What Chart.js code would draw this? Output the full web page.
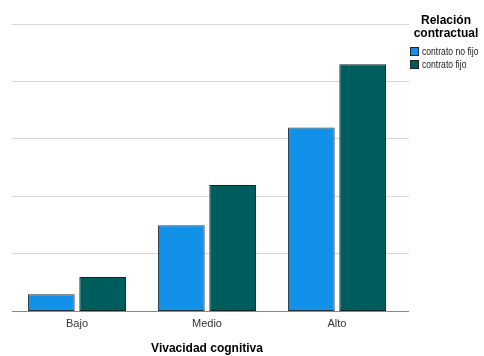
<!DOCTYPE html>
<html lang="es">
<head>
    <meta charset="UTF-8">
    <title>Vivacidad cognitiva</title>
    <script src="https://cdn.jsdelivr.net/npm/chart.js"></script>
    <style>
        body {
            margin: 0;
            padding: 0;
            background: white;
        }
        #wrap {
            position: relative;
            width: 484px;
            height: 356px;
        }
    </style>
</head>
<body>

<div id="wrap"><canvas id="barChart"></canvas></div>

<script>
    // data
    const categories = ['Bajo', 'Medio', 'Alto'];
    const noFijo = [3, 15, 32];
    const fijo = [6, 22, 43];
    const seriesNames = ['contrato no fijo', 'contrato fijo'];
    const yTicks = [0, 10, 20, 30, 40, 50];

    const colors = ['#1192e8', '#005d5d'];
    const fontFamily = '"Liberation Sans", Arial, sans-serif';
    const gridColor = '#d6d6d6';
    const axisColor = '#888';
    const gridOverhang = 7; // SPSS lets the grid run a little past the last group

    // extend horizontal grid + baseline to the right
    const gridExtend = {
        id: 'gridExtend',
        beforeDatasetsDraw(chart) {
            const ctx = chart.ctx;
            const y = chart.scales.y;
            const right = chart.chartArea.right;
            ctx.save();
            ctx.lineWidth = 1;
            yTicks.forEach(v => {
                // same pixel alignment Chart.js uses for 1px lines
                const py = Math.round(y.getPixelForValue(v) - 0.5) + 0.5;
                ctx.strokeStyle = v === 0 ? axisColor : gridColor;
                ctx.beginPath();
                ctx.moveTo(right, py);
                ctx.lineTo(right + gridOverhang, py);
                ctx.stroke();
            });
            ctx.restore();
        }
    };

    // legend drawn by hand, SPSS style
    const legendBox = {
        id: 'legendBox',
        afterDraw(chart) {
            const ctx = chart.ctx;
            ctx.save();
            ctx.fillStyle = '#000';
            ctx.font = 'bold 12px ' + fontFamily;
            ctx.textAlign = 'center';
            ctx.textBaseline = 'middle';
            ctx.fillText('Relación', 446, 21);
            ctx.fillText('contractual', 446, 34);

            ctx.font = '10px ' + fontFamily;
            ctx.textAlign = 'left';
            seriesNames.forEach((name, i) => {
                const y = 47 + i * 13;
                ctx.fillStyle = colors[i];
                ctx.fillRect(410, y, 9, 9);
                ctx.strokeStyle = '#222';
                ctx.lineWidth = 1;
                ctx.strokeRect(410.5, y + 0.5, 8, 8);
                ctx.fillStyle = '#222';
                const w = ctx.measureText(name).width;
                ctx.fillText(name, 422, y + 5, w * 0.86);
            });
            ctx.restore();
        }
    };

    const ctx = document.getElementById('barChart').getContext('2d');

    new Chart(ctx, {
        type: 'bar',
        data: {
            labels: categories,
            datasets: [
                {
                    label: seriesNames[0],
                    data: noFijo,
                    backgroundColor: colors[0],
                    borderColor: '#2a3640',
                    borderWidth: 1,
                    borderSkipped: false,
                    categoryPercentage: 0.79,
                    barPercentage: 0.91
                },
                {
                    label: seriesNames[1],
                    data: fijo,
                    backgroundColor: colors[1],
                    borderColor: '#142424',
                    borderWidth: 1,
                    borderSkipped: false,
                    categoryPercentage: 0.79,
                    barPercentage: 0.91
                }
            ]
        },
        options: {
            responsive: true,
            maintainAspectRatio: false,
            animation: false,
            layout: {
                padding: { left: 12, right: 82, top: 24, bottom: 0 }
            },
            scales: {
                x: {
                    grid: { display: false, drawTicks: false },
                    border: { color: axisColor, width: 1 },
                    ticks: {
                        color: '#333',
                        font: { family: fontFamily, size: 11 },
                        padding: 6
                    },
                    title: {
                        display: true,
                        text: 'Vivacidad cognitiva',
                        color: '#000',
                        font: { family: fontFamily, size: 12, weight: 'bold' },
                        padding: { top: 5, bottom: 0 }
                    }
                },
                y: {
                    min: yTicks[0],
                    max: yTicks[yTicks.length - 1],
                    afterBuildTicks(axis) {
                        axis.ticks = yTicks.map(v => ({ value: v }));
                    },
                    ticks: { display: false },
                    border: { display: false },
                    grid: {
                        color: gridColor,
                        lineWidth: 1,
                        drawTicks: false
                    }
                }
            },
            plugins: {
                legend: { display: false },
                tooltip: { enabled: false }
            }
        },
        plugins: [gridExtend, legendBox]
    });
</script>

</body>
</html>
